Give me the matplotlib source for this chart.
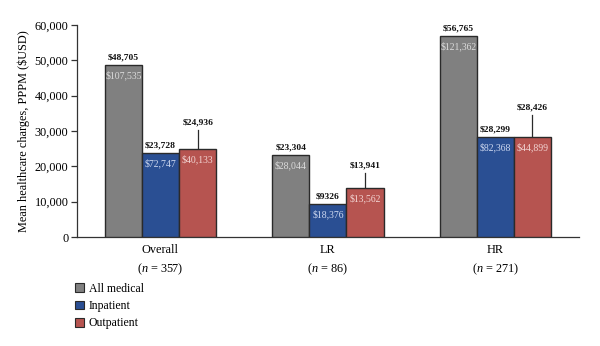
import matplotlib
matplotlib.use("Agg")
import matplotlib.pyplot as plt
import numpy as np
from matplotlib.patches import Patch

plt.rcParams['font.family'] = ['Liberation Serif', 'DejaVu Serif']
plt.rcParams['mathtext.fontset'] = 'custom'
plt.rcParams['mathtext.it'] = 'Liberation Serif:italic'
plt.rcParams['mathtext.rm'] = 'Liberation Serif'

groups = ["Overall", "LR", "HR"]
group_n = ["357", "86", "271"]
series = ["All medical", "Inpatient", "Outpatient"]
all_medical = [48705, 23304, 56765]
inpatient = [23728, 9326, 28299]
outpatient = [24936, 13941, 28426]
sd_all_medical = ["$107,535", "$28,044", "$121,362"]
sd_inpatient = ["$72,747", "$18,376", "$82,368"]
sd_outpatient = ["$40,133", "$13,562", "$44,899"]
mean_all_medical = ["$48,705", "$23,304", "$56,765"]
mean_inpatient = ["$23,728", "$9326", "$28,299"]
mean_outpatient = ["$24,936", "$13,941", "$28,426"]
outpatient_err_top = [30300, 18000, 34500]
yticks = [0, 10000, 20000, 30000, 40000, 50000, 60000]

colors = ["#808080", "#2a4f93", "#b65450"]
inner_colors = ["#dcdcdc", "#cfd9f0", "#f3d6d4"]
edge = "#2a2a2a"

fig = plt.figure(figsize=(6, 3.46), dpi=100)
ax = fig.add_axes([0.128, 0.315, 0.837, 0.613])

x = np.arange(len(groups))
w = 0.222
vals = [all_medical, inpatient, outpatient]
sds = [sd_all_medical, sd_inpatient, sd_outpatient]
means = [mean_all_medical, mean_inpatient, mean_outpatient]

for i, (v, sd, mn) in enumerate(zip(vals, sds, means)):
    xs = x + (i - 1) * w
    ax.bar(xs, v, width=w, color=colors[i], edgecolor=edge, linewidth=1.0, zorder=3)
    for j in range(len(groups)):
        top = v[j]
        if i == 2:
            ax.plot([xs[j], xs[j]], [v[j], outpatient_err_top[j]], color=edge, lw=0.9, zorder=2)
            top = outpatient_err_top[j]
        ax.annotate(mn[j], (xs[j], top), xytext=(0, 2.5), textcoords="offset points",
                    ha="center", va="bottom", fontsize=6.8, color="#111111", fontweight="bold")
        ax.annotate(sd[j], (xs[j], v[j]), xytext=(0, -4), textcoords="offset points",
                    ha="center", va="top", fontsize=7, color=inner_colors[i])

ax.set_xlim(-0.5, 2.5)
ax.set_ylim(0, 60000)
ax.set_yticks(yticks)
ax.set_yticklabels([f"{t:,}" for t in yticks], fontsize=8.8)
ax.set_xticks(x)
ax.set_xticklabels([f"{g}\n($\\mathit{{n}}$ = {n})" for g, n in zip(groups, group_n)], fontsize=8.8,
                   linespacing=1.5)
ax.tick_params(axis="x", length=0, pad=5)
ax.tick_params(axis="y", length=4, width=0.9, pad=2, color="#333333")
for s in ["top", "right"]:
    ax.spines[s].set_visible(False)
for s in ["left", "bottom"]:
    ax.spines[s].set_color("#333333")
    ax.spines[s].set_linewidth(0.9)
ax.set_ylabel("Mean healthcare charges, PPPM ($USD)", fontsize=8.8, labelpad=3)

handles = [Patch(facecolor=c, edgecolor=edge, linewidth=0.8) for c in colors]
fig.legend(handles, series, loc="upper left", bbox_to_anchor=(0.125, 0.183), frameon=False,
           fontsize=8.5, handlelength=0.75, handleheight=0.75, handletextpad=0.4,
           labelspacing=0.45, borderpad=0, borderaxespad=0)

fig.savefig("out.png", dpi=100)
